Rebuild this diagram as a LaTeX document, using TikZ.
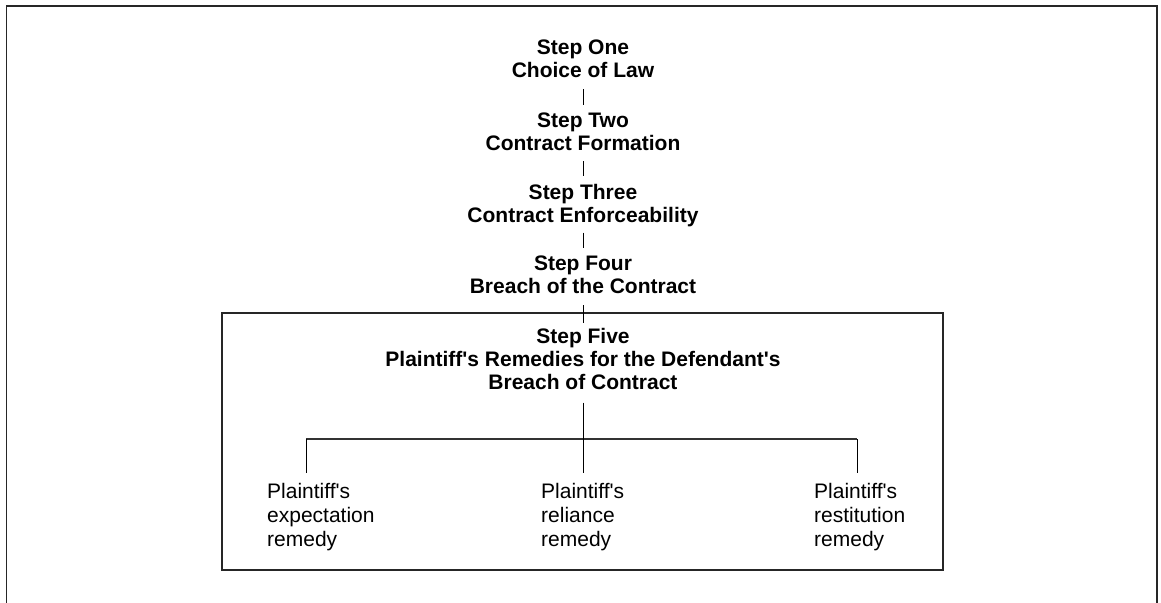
\documentclass[tikz,border=0pt]{standalone}
\usepackage{fontspec}
\setmainfont{Liberation Sans}[Ligatures=TeXOff]
\begin{document}
\begin{tikzpicture}[x=1pt,y=-1pt,
  frame/.style={draw=black!85,line width=1.8pt},
  stepbox/.style={align=center,inner sep=0pt,anchor=north,
    font={\bfseries\fontsize{21}{23}\selectfont},
    execute at begin node={\rule{0pt}{15pt}},
    execute at end node={\rule[-5pt]{0pt}{5pt}}},
  leaf/.style={align=left,inner sep=0pt,anchor=north west,
    font={\fontsize{21}{24}\selectfont},
    execute at begin node={\rule{0pt}{15pt}}},
  link/.style={draw=black,line width=1pt},
  bar/.style={draw=black!80,line width=1.3pt}]
\useasboundingbox (0,0) rectangle (1161,602);
\clip (0,0) rectangle (1161,602);
% outer frame (open at the bottom)
\draw[frame] (6.5,640) -- (6.5,6) -- (1157,6) -- (1157,640);
% inner box of step five
\node[frame,minimum width=721pt,minimum height=257pt,inner sep=0pt] (box) at (582.5,441.5) {};
% steps
\node[stepbox] (s1) at (583,40) {Step One\\Choice of Law};
\node[stepbox] (s2) at (583,113) {Step Two\\Contract Formation};
\node[stepbox] (s3) at (583,184) {Step Three\\Contract Enforceability};
\node[stepbox] (s4) at (583,256) {Step Four\\Breach of the Contract};
\node[stepbox] (s5) at (583,328) {Step Five\\Plaintiff's Remedies for the Defendant's\\Breach of Contract};
\draw[link,shorten <=6pt,shorten >=8pt] (s1.south) -- (s2.north);
\draw[link,shorten <=5pt,shorten >=8pt] (s2.south) -- (s3.north);
\draw[link,shorten <=5pt,shorten >=8pt] (s3.south) -- (s4.north);
\draw[link,shorten <=6pt,shorten >=5pt] (s4.south) -- (s5.north);
% tree
\coordinate (j1) at (306,439);
\coordinate (j3) at (857,439);
\coordinate (e1) at (306,473);
\coordinate (e2) at (583,473);
\coordinate (e3) at (857,473);
\draw[bar] (j1) -- (j3);
\draw[link] (j1) -- (e1);
\draw[link] (j3) -- (e3);
\draw[link,shorten <=8pt] (s5.south) -- (e2);
% remedies
\node[leaf] (r1) at (267,483) {Plaintiff's\\expectation\\remedy};
\node[leaf] (r2) at (541,483) {Plaintiff's\\reliance\\remedy};
\node[leaf] (r3) at (814,483) {Plaintiff's\\restitution\\remedy};
\end{tikzpicture}
\end{document}
